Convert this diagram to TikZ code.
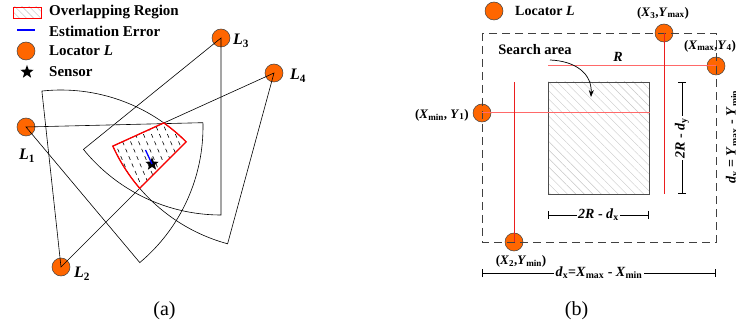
\documentclass[tikz,border=0pt]{standalone}
\usepackage{fontspec}
\setmainfont{Liberation Serif}
\usetikzlibrary{shapes.geometric,patterns.meta,calc,arrows.meta}
\definecolor{orangeL}{RGB}{255,102,0}
\definecolor{hred}{RGB}{255,105,105}
\definecolor{vred}{RGB}{235,30,30}
\newcommand\bi[1]{\textbf{\textit{#1}}}
\newcommand\sbx[1]{\textsubscript{\normalfont\bfseries #1}}
\tikzset{
 loc/.style={circle, fill=orangeL, draw=black!75, line width=0.5pt, minimum size=18pt, inner sep=0pt},
 sector/.style={draw=black, line width=0.6pt},
 legtext/.style={anchor=west, font=\fontsize{15}{18}\selectfont\bfseries, inner sep=0pt},
 lbl/.style={font=\fontsize{16}{19}\selectfont\bfseries\itshape, inner sep=0pt},
 coordlbl/.style={font=\fontsize{13}{16}\selectfont\bfseries, inner sep=0pt},
 dimtext/.style={font=\fontsize{14}{17}\selectfont\bfseries, fill=white, inner sep=1.5pt},
 dimline/.style={{Bar[width=8pt]}-{Bar[width=8pt]}, line width=0.8pt},
 sensor/.style={star, star points=5, star point ratio=2.4, minimum size=14pt, fill=black, inner sep=0pt},
 capt/.style={font=\fontsize{20}{24}\selectfont, inner sep=0pt},
 regionpath/.style={draw=red, line width=1.3pt},
}
\begin{document}
\begin{tikzpicture}[x=1pt,y=-1pt]
\useasboundingbox (0,0) rectangle (736,331);
\clip (0,0) rectangle (736,331);

% ---------- legend (a)
\node[draw=red, line width=0.8pt, minimum width=28pt, minimum height=11pt, inner sep=0pt,
  pattern={Lines[angle=-45,distance=5pt,line width=0.4pt]}, pattern color=gray!50] (legreg) at (27,12.5) {};
\coordinate (legb1) at (17,30);
\coordinate (legb2) at (35,30);
\draw[blue, line width=1.4pt] (legb1) -- (legb2);
\node[loc] (legloc) at (26,51) {};
\node[sensor] (legsens) at (27,72) {};
\node[legtext] (t1) at (49,12) {Overlapping Region};
\node[legtext] (t2) at (49,31) {Estimation Error};
\node[legtext] (t3) at (49,51) {Locator \textit{L}};
\node[legtext] (t4) at (49,72) {Sensor};

% ---------- locators (a)
\node[loc] (L1) at (26,127) {};
\node[loc] (L2) at (61,267) {};
\node[loc] (L3) at (221,38) {};
\node[loc] (L4) at (274,73) {};

% sectors
\draw[sector] (L1.center) -- ++(1.4:177pt) arc[start angle=1.4,end angle=-50,radius=177pt] -- cycle;
\draw[sector] (L2.center) -- ++(45:177pt) arc[start angle=45,end angle=96.2,radius=177pt] -- cycle;
\draw[sector] (L3.center) -- ++(-141:177pt) arc[start angle=-141,end angle=-90,radius=177pt] -- cycle;
\draw[sector] (L4.center) -- ++(204.4:177pt) arc[start angle=204.4,end angle=254.8,radius=177pt] -- cycle;

% overlapping region
\coordinate (A) at ($(L4.center)+(204.4:177pt)$);
\coordinate (B) at ($(L2.center)+(54.5:177pt)$);
\coordinate (D) at ($(L4.center)+(220.65:177pt)$);
\begin{scope}
\clip (A) -- (B) arc[start angle=54.5,end angle=45,radius=177pt] -- (D) arc[start angle=220.65,end angle=204.4,radius=177pt] -- cycle;
\foreach \i in {0,...,16} {
  \draw[line width=0.6pt, dash pattern=on 4pt off 4pt] ($(78,112)+(\i*8,0)$) -- ++(-67:110pt);
}
\end{scope}
\draw[regionpath] (A) -- (B) arc[start angle=54.5,end angle=45,radius=177pt] -- (D) arc[start angle=220.65,end angle=204.4,radius=177pt] -- cycle;

\coordinate (err1) at (145.5,150);
\node[sensor] (sens) at (152,164) {};
\draw[blue, line width=1.3pt] (err1) -- (sens.center);

\node[lbl] (l1) at (27,156) {L\sbx{1}};
\node[lbl] (l2) at (82,274) {L\sbx{2}};
\node[lbl] (l3) at (241,41) {L\sbx{3}};
\node[lbl] (l4) at (298,76) {L\sbx{4}};

\node[capt] (capa) at (164.5,311) {(a)};

% ---------- figure (b)
\node[loc] (legloc2) at (494,11) {};
\node[legtext, font=\fontsize{14}{17}\selectfont\bfseries] (t5) at (515,11) {Locator \textit{L}};

\node[draw=black!70, line width=0.8pt, minimum width=101pt, minimum height=112pt, inner sep=0pt,
  pattern={Lines[angle=-45,distance=6pt,line width=0.4pt]}, pattern color=gray!45] (area) at (598.5,138) {};

\node[loc] (R3) at (664,33) {};
\node[loc] (R4) at (716,66) {};
\node[loc] (R1) at (482,113) {};
\node[loc] (R2) at (514,242) {};

\draw[black!75, line width=0.8pt, dash pattern=on 8pt off 5pt] (482,33) rectangle (716,242);

\coordinate (e3) at (664,194);
\coordinate (e4) at (548,66);
\coordinate (e1) at (650,113);
\coordinate (e2) at (514,82);
\draw[hred, line width=1pt] (R4.center) -- (e4);
\draw[hred, line width=1pt] (R1.center) -- (e1);
\draw[vred, line width=1pt] (R3.center) -- (e3);
\draw[vred, line width=1pt] (R2.center) -- (e2);

\node[font=\fontsize{14.5}{17}\selectfont\bfseries, inner sep=0pt] (sa) at (535,50) {Search area};
\coordinate (arS) at (550,60);
\coordinate (arE) at (591,97);
\draw[line width=0.7pt, -{Stealth[length=7pt,width=5pt]}] (arS) .. controls (576,61) and (592,74) .. (arE);
\node[lbl, font=\fontsize{14}{17}\selectfont\bfseries\itshape] (Rl) at (618,57) {R};

% dimensions
\coordinate (dx1) at (548,215);
\coordinate (dx2) at (649,215);
\draw[dimline] (dx1) -- node[dimtext] {\bi{2R} - \bi{d}\sbx{x}} (dx2);
\coordinate (dy1) at (682,194);
\coordinate (dy2) at (682,82);
\draw[dimline] (dy1) -- node[dimtext, rotate=90] {\bi{2R} - \bi{d}\sbx{y}} (dy2);
\coordinate (Dx1) at (482,273);
\coordinate (Dx2) at (716,273);
\draw[dimline] (Dx1) -- node[dimtext] {\bi{d}\sbx{x}=\bi{X}\sbx{max} - \bi{X}\sbx{min}} (Dx2);
\node[dimtext, fill=none, rotate=90] (dyt) at (733,137) {\bi{d}\sbx{y} = \bi{Y}\sbx{max} - \bi{Y}\sbx{min}};

% coordinate labels
\node[coordlbl] (c3) at (663,13) {(\textit{X}\sbx{3},\textit{Y}\sbx{max})};
\node[coordlbl] (c4) at (710,46) {(\textit{X}\sbx{max},\textit{Y}\sbx{4})};
\node[coordlbl, anchor=east] (c1) at (469,115) {(\textit{X}\sbx{min}, \textit{Y}\sbx{1})};
\node[coordlbl] (c2) at (521,261) {(\textit{X}\sbx{2},\textit{Y}\sbx{min})};

\node[capt] (capb) at (576.5,311) {(b)};
\end{tikzpicture}
\end{document}
